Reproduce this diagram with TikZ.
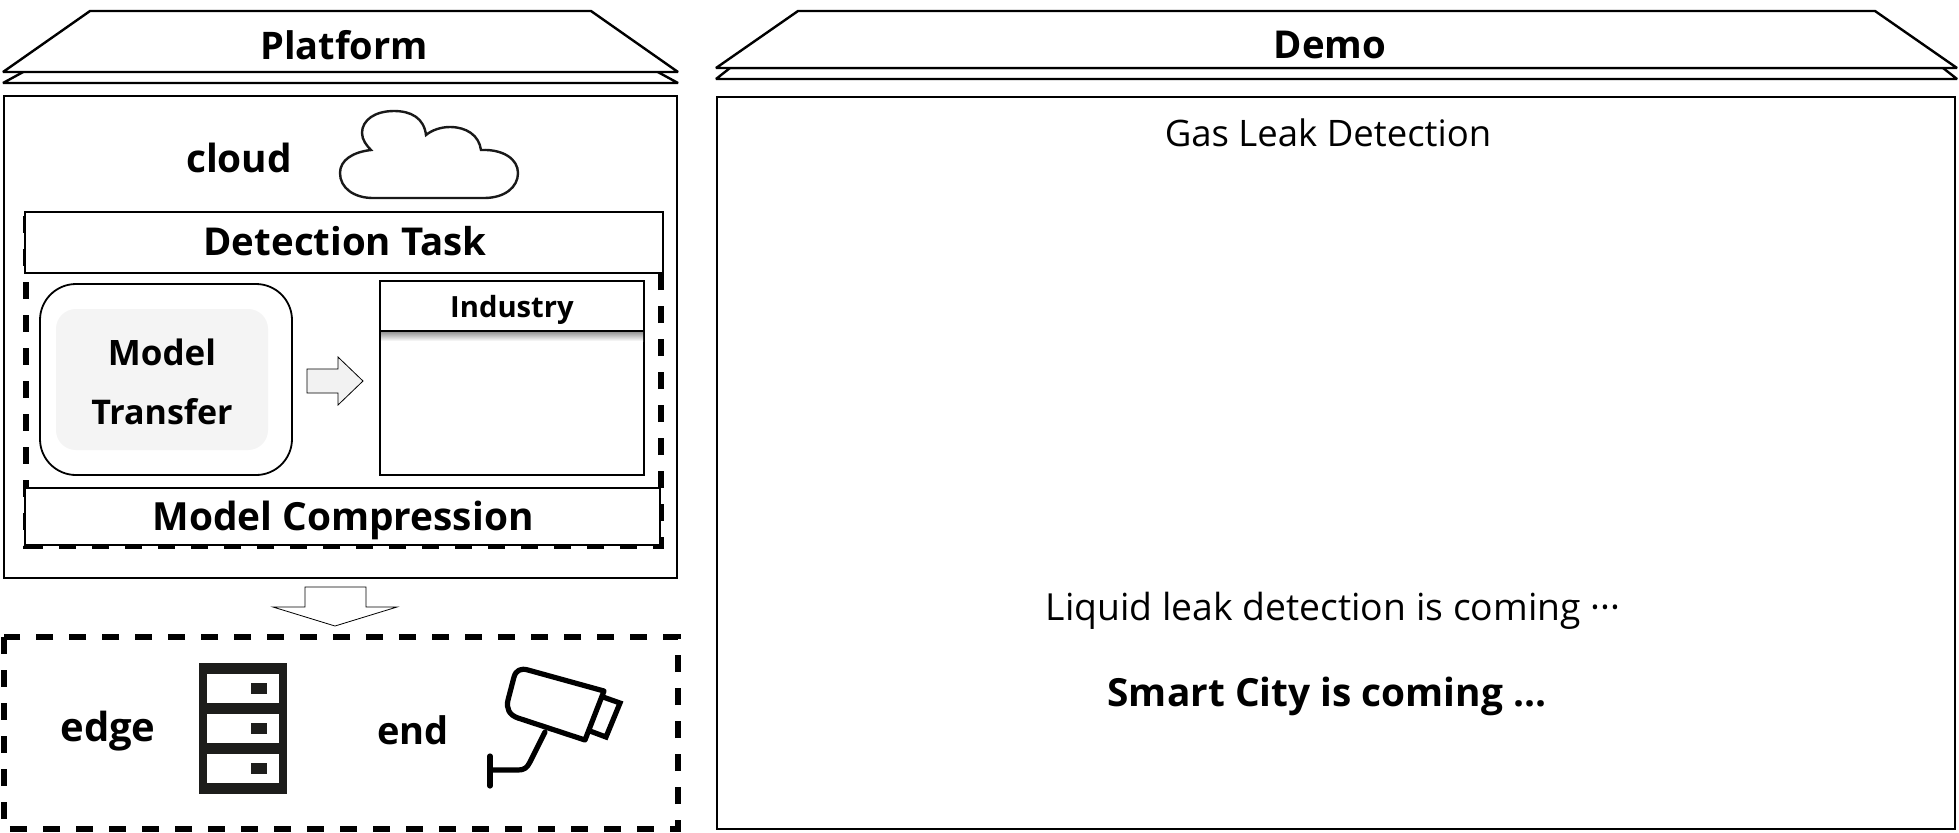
\documentclass[tikz,border=0pt]{standalone}
\usepackage{fontspec}
\setmainfont{Open Sans}
\usetikzlibrary{shapes.geometric}
\newcommand{\fs}[1]{\fontsize{#1}{#1}\selectfont}
\tikzset{
  x=0.5pt,y=-0.5pt,
  panel/.style={draw=black,line width=1.2pt,fill=white,line join=bevel},
  frame/.style={draw=black,line width=1.2pt,fill=white},
  thin box/.style={draw=black,line width=1.2pt,fill=white},
  dash box/.style={draw=black,line width=2.8pt,dash pattern=on 8.7pt off 7.8pt},
  hollow/.style={draw=black,line width=0.4pt,fill=#1,line join=miter},
  lbl/.style={inner sep=0pt,anchor=center,font=\bfseries},
  plain/.style={inner sep=0pt,anchor=center},
  icon/.style={draw=black,line width=2.6pt,line join=round,line cap=round},
}
\definecolor{srv}{HTML}{1D1D1B}
\definecolor{inner}{HTML}{F4F4F4}
\definecolor{arrowfill}{HTML}{F2F2F2}
\begin{document}
\begin{tikzpicture}
\useasboundingbox (0,0) rectangle (1959,832);
\fill[white] (0,0) rectangle (1959,832);
% platform header
\draw[panel] (3,83) -- (25,71) -- (656,71) -- (678,83) -- cycle;
\draw[panel] (3,72) -- (90,11) -- (591,11) -- (678,72) -- cycle;
\node[lbl,font=\bfseries\fs{19}] (platform) at (344,45) {Platform};
\draw[frame] (4,96) rectangle (677,578);
\node[lbl,font=\bfseries\fs{19.4}] (cloudtxt) at (239,158) {cloud};
\draw[line width=1.2pt,draw=black!90] (373,198) -- (484,198)
  .. controls (505,198) and (518,187) .. (518,173)
  .. controls (518,159) and (503,149) .. (481,150)
  .. controls (479,135) and (466,127) .. (450,127)
  .. controls (441,127) and (432,130) .. (426,135)
  .. controls (424,118) and (411,111) .. (394,111)
  .. controls (375,111) and (362,120) .. (362,133)
  .. controls (362,140) and (367,146) .. (371,150)
  .. controls (353,152) and (340,160) .. (340,173)
  .. controls (340,188) and (354,198) .. (373,198) -- cycle;
% dashed region
\draw[dash box] (26,216) rectangle (661,546);
\draw[thin box] (25,212) rectangle (663,273);
\node[lbl,font=\bfseries\fs{19.2}] (dt) at (345,241) {Detection Task};
\draw[line width=0.9pt,rounded corners=18pt,fill=white] (40,284) rectangle (292,475);
\fill[inner,rounded corners=10pt] (56,309) rectangle (268,450);
\node[lbl,font=\bfseries\fs{17.5}] (model) at (162,352) {Model};
\node[lbl,font=\bfseries\fs{17}] (transfer) at (162,412) {Transfer};
\draw[hollow=arrowfill] (307,369) -- (338,369) -- (338,357) -- (363,381) -- (338,405) -- (338,393) -- (307,393) -- cycle;
\draw[thin box] (380,281) rectangle (644,475);
\shade[top color=black!45,bottom color=white] (381,331) rectangle (643,341);
\draw[thin box] (380,281) rectangle (644,331);
\node[lbl,font=\bfseries\fs{14.6}] (industry) at (512,310) {Industry};
\draw[thin box] (25,488) rectangle (660,545);
\node[lbl,font=\bfseries\fs{19.4}] (mc) at (343,520) {Model Compression};
% down arrow
\draw[hollow=white] (305,587) -- (366,587) -- (366,607) -- (397,607) -- (335,626) -- (273,607) -- (305,607) -- cycle;
% edge/end
\draw[dash box] (4,637) rectangle (678,829);
\node[lbl,font=\bfseries\fs{20}] (edge) at (108,731) {edge};
\fill[srv] (199,663) rectangle (287,794);
\foreach \a/\b in {674/703,714/743,754/783}{\fill[white] (207,\a) rectangle (279,\b);}
\foreach \a/\b in {683/694,723/734,763/774}{\fill[srv] (251,\a) rectangle (267,\b);}
\node[lbl,font=\bfseries\fs{19}] (endtxt) at (413,730) {end};
% camera
\draw[icon] (528,670) -- (604,691) -- (585,740) -- (518,718)
  .. controls (509,715) and (506,708) .. (508,700) -- (514,677)
  .. controls (516,670) and (521,668) .. (528,670) -- cycle;
\draw[icon,line join=miter] (603,697) -- (620,703) -- (606,737) -- (590,731);
\draw[icon] (545,732) -- (530,762) .. controls (527,768) and (524,770) .. (518,770) -- (490,770);
\draw[icon] (490,756) -- (490,786);
% demo
\draw[panel] (716,79) -- (730,68) -- (1943,68) -- (1957,79) -- cycle;
\draw[panel] (716,68) -- (798,11) -- (1875,11) -- (1957,68) -- cycle;
\node[lbl,font=\bfseries\fs{19.2}] (demo) at (1330,45) {Demo};
\draw[frame] (717,97) rectangle (1955,829);
\node[plain,font=\fs{18.25}] (gas) at (1328,133) {Gas Leak Detection};
\node[plain,font=\fs{18.65}] (liquid) at (1333,611) {Liquid leak detection is coming ···};
\node[lbl,font=\bfseries\fs{19.4}] (smart) at (1327,696) {Smart City is coming ...};
\end{tikzpicture}
\end{document}
